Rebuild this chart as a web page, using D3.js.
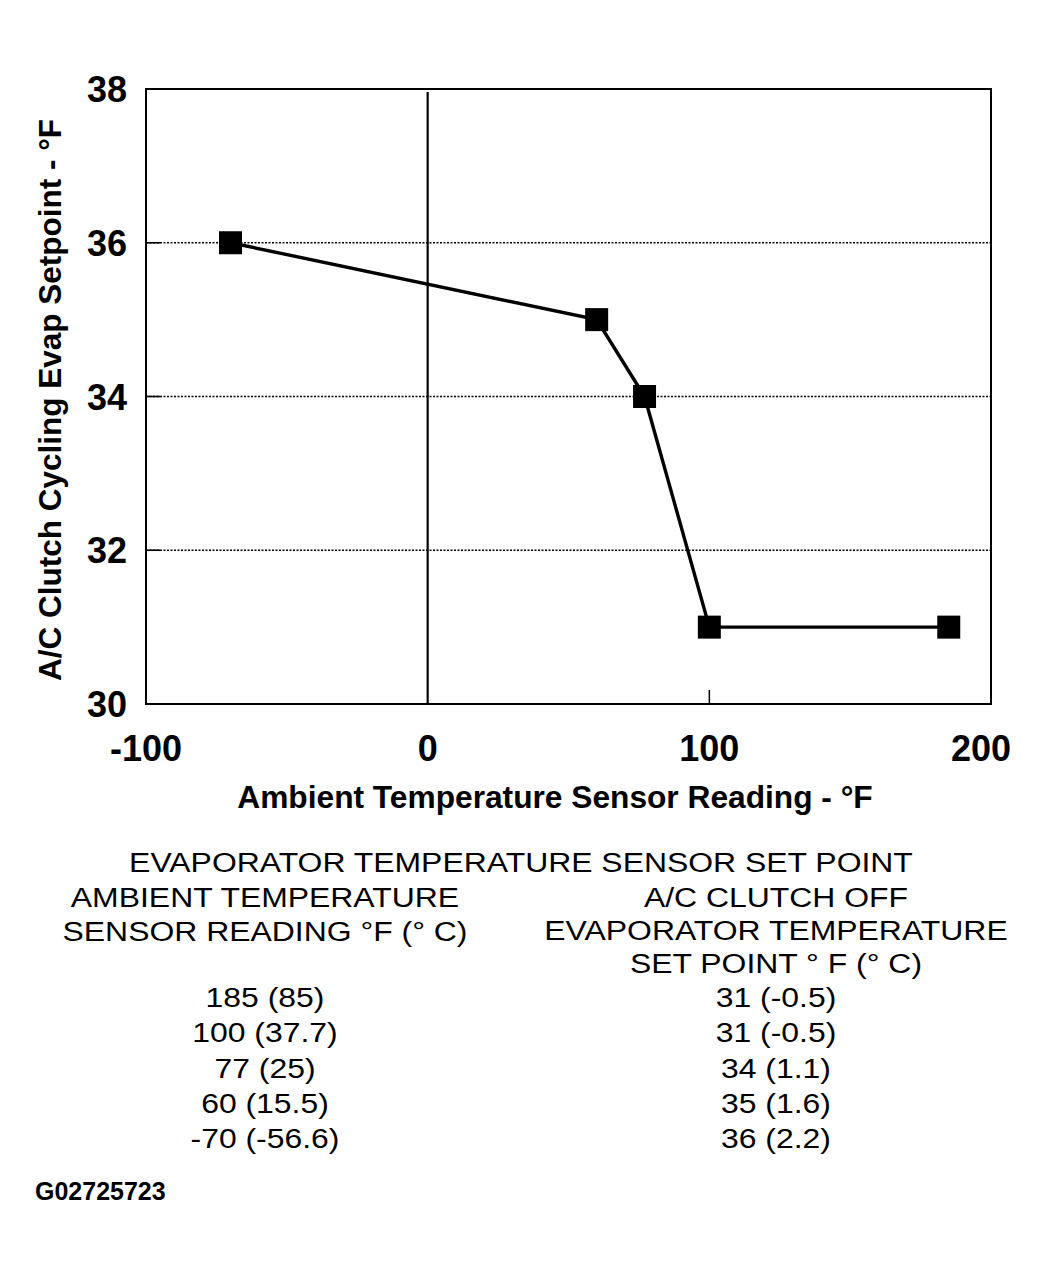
<!DOCTYPE html>
<html><head><meta charset="utf-8">
<script src="https://cdn.jsdelivr.net/npm/d3@7"></script>
<style>body{margin:0;background:#fff}svg{display:block}text{font-family:"Liberation Sans",Arial,sans-serif;fill:#000}</style>
</head><body>
<svg id="c" width="1048" height="1277"></svg>
<script>
const ambientF = [-70, 60, 77, 100, 185];
const setpointF = [36, 35, 34, 31, 31];
const xTicks = [-100, 0, 100, 200];
const yTicks = [30, 32, 34, 36, 38];
const gridValues = [32, 34, 36];
const tableTitle = "EVAPORATOR TEMPERATURE SENSOR SET POINT";
const leftHeader = ["AMBIENT TEMPERATURE", "SENSOR READING °F (° C)"];
const rightHeader = ["A/C CLUTCH OFF", "EVAPORATOR TEMPERATURE", "SET POINT ° F (° C)"];
const leftRows = ["185 (85)", "100 (37.7)", "77 (25)", "60 (15.5)", "-70 (-56.6)"];
const rightRows = ["31 (-0.5)", "31 (-0.5)", "34 (1.1)", "35 (1.6)", "36 (2.2)"];
const figId = "G02725723";

const svg = d3.select("#c");
const L = 146, R = 991, T = 89, B = 704;
const x = d3.scaleLinear().domain([-100, 200]).range([L, R]);
const y = d3.scaleLinear().domain([30, 38]).range([B, T]);

// gridlines
svg.append("g").selectAll("line").data(gridValues).join("line")
  .attr("x1", L).attr("x2", R).attr("y1", d => y(d)).attr("y2", d => y(d))
  .attr("stroke", "#000").attr("stroke-width", 1.6).attr("stroke-dasharray", "2,1.5");

// inward y ticks
svg.append("g").selectAll("line").data(gridValues).join("line")
  .attr("x1", L).attr("x2", L + 14).attr("y1", d => y(d)).attr("y2", d => y(d))
  .attr("stroke", "#000").attr("stroke-width", 1.6);

// inward x tick at 100
svg.append("g").selectAll("line").data([100]).join("line")
  .attr("x1", d => x(d)).attr("x2", d => x(d)).attr("y1", B).attr("y2", B - 14)
  .attr("stroke", "#000").attr("stroke-width", 1.5);

// zero line
svg.append("line").attr("x1", x(0)).attr("x2", x(0)).attr("y1", T + 3).attr("y2", B)
  .attr("stroke", "#000").attr("stroke-width", 2.2);

// frame
svg.append("rect").attr("x", L).attr("y", T).attr("width", R - L).attr("height", B - T)
  .attr("fill", "none").attr("stroke", "#000").attr("stroke-width", 2);

// tick labels
svg.append("g").selectAll("text").data(yTicks).join("text")
  .attr("x", 127).attr("y", d => y(d) + 13).attr("text-anchor", "end")
  .attr("font-size", 36).attr("font-weight", "bold").text(d => d);
svg.append("g").selectAll("text").data(xTicks).join("text")
  .attr("x", (d, i) => i === xTicks.length - 1 ? 1011 : x(d)).attr("y", 761)
  .attr("text-anchor", (d, i) => i === xTicks.length - 1 ? "end" : "middle")
  .attr("font-size", 36).attr("font-weight", "bold").text(d => d);

// axis titles
svg.append("text").attr("x", 555).attr("y", 808).attr("text-anchor", "middle")
  .attr("font-size", 31.7).attr("font-weight", "bold")
  .text("Ambient Temperature Sensor Reading - °F");
svg.append("text").attr("transform", "translate(61,400) rotate(-90)").attr("text-anchor", "middle")
  .attr("font-size", 31.5).attr("font-weight", "bold")
  .text("A/C Clutch Cycling Evap Setpoint - °F");

// series
const pts = ambientF.map((v, i) => [v, setpointF[i]]);
svg.append("path").datum(pts)
  .attr("d", d3.line().x(d => x(d[0])).y(d => y(d[1])))
  .attr("fill", "none").attr("stroke", "#000").attr("stroke-width", 3.4);
svg.append("g").selectAll("rect").data(pts).join("rect")
  .attr("x", d => x(d[0]) - 11.5).attr("y", d => y(d[1]) - 11.5)
  .attr("width", 23).attr("height", 23).attr("fill", "#000");

// table (wide-set face: stretch horizontally)
const sx = 1.14, fs = 28;
const tg = svg.append("g").attr("transform", `scale(${sx},1)`);
tg.append("text").attr("x", 521 / sx).attr("y", 872).attr("text-anchor", "middle")
  .attr("font-size", fs).text(tableTitle);
tg.append("g").selectAll("text").data(leftHeader).join("text")
  .attr("x", 265 / sx).attr("y", (d, i) => 907 + i * 34).attr("text-anchor", "middle")
  .attr("font-size", fs).text(d => d);
tg.append("g").selectAll("text").data(rightHeader).join("text")
  .attr("x", 776 / sx).attr("y", (d, i) => 907 + i * 33).attr("text-anchor", "middle")
  .attr("font-size", fs).text(d => d);
tg.append("g").selectAll("text").data(leftRows).join("text")
  .attr("x", 265 / sx).attr("y", (d, i) => 1007 + i * 35.3).attr("text-anchor", "middle")
  .attr("font-size", fs).text(d => d);
tg.append("g").selectAll("text").data(rightRows).join("text")
  .attr("x", 776 / sx).attr("y", (d, i) => 1007 + i * 35.3).attr("text-anchor", "middle")
  .attr("font-size", fs).text(d => d);
svg.append("text").attr("x", 35).attr("y", 1200).attr("font-size", 25)
  .attr("font-weight", "bold").text(figId);
</script>
</body></html>
